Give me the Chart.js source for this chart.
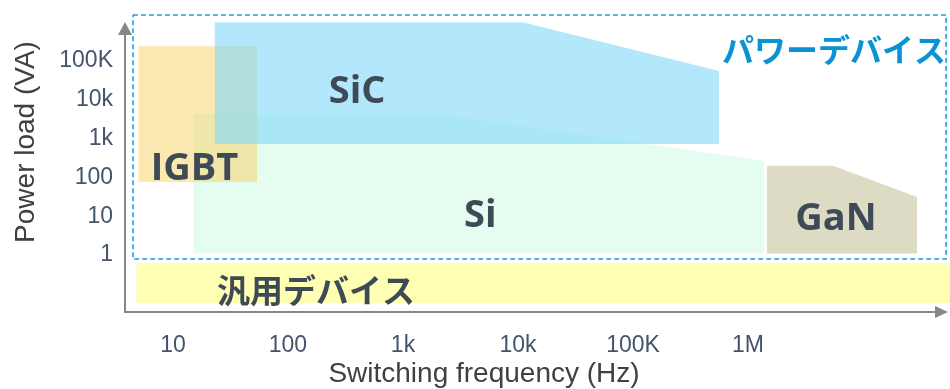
<!DOCTYPE html>
<html>
<head>
<meta charset="utf-8">
<script src="https://cdn.jsdelivr.net/npm/chart.js"></script>
<style>
  html, body { margin: 0; padding: 0; background: #fff; }
  #wrap { width: 950px; height: 389px; }
</style>
</head>
<body>
<div id="wrap"><canvas id="chart"></canvas></div>
<script>
// Axis ranges: switching frequency (Hz) and power load (VA), both log
const freqMin = 3.83, freqMax = 5.7e7;
const loadMin = 0.034, loadMax = 1.83e6;

const xTickValues = [10, 100, 1e3, 1e4, 1e5, 1e6];
const xTickLabels = ['10', '100', '1k', '10k', '100K', '1M'];
const yTickValues = [1, 10, 100, 1e3, 1e4, 1e5];
const yTickLabels = ['1', '10', '100', '1k', '10k', '100K'];

// Device regions: top edge of each area, filled down to its floor value
const sicTop = [{x: 23, y: 1e6}, {x: 1.1e4, y: 1e6}, {x: 5.6e5, y: 5.5e4}];
const sicFloor = 730;
const igbtTop = [{x: 5, y: 2.4e5}, {x: 54, y: 2.4e5}];
const igbtFloor = 76;
const siTop = [{x: 15, y: 4300}, {x: 2100, y: 4300}, {x: 1.38e6, y: 265}];
const siFloor = 1.1;
const ganTop = [{x: 1.46e6, y: 200}, {x: 5.5e6, y: 200}, {x: 2.95e7, y: 31}];
const ganFloor = 1.1;
const generalTop = [{x: 4.8, y: 0.62}, {x: 5.7e7, y: 0.62}];
const generalFloor = 0.058;

// Dashed frame around the power-device range
const powerFrame = [
  {x: 4.49, y: 1.53e6}, {x: 5.27e7, y: 1.53e6},
  {x: 5.27e7, y: 0.79}, {x: 4.49, y: 0.79}, {x: 4.49, y: 1.53e6}
];

// Region names and where they sit (Hz, VA)
const regionNames = ['SiC', 'IGBT', 'Si', 'GaN', '汎用デバイス', 'パワーデバイス'];
const regionLabelX = [400, 15.4, 4700, 5.8e6, 175, 5.6e6];
const regionLabelY = [16000, 160, 9.8, 8.2, 0.125, 1.92e5];

const latinBold = 'bold 38px "Open Sans", "Noto Sans CJK JP", sans-serif';
const cjkBold = 'bold 33px "Noto Sans CJK JP", sans-serif';
const labelFonts = [latinBold, latinBold, latinBold, latinBold, cjkBold, 'bold 32px "Noto Sans CJK JP", sans-serif'];
const labelColors = ['#3e4a56', '#3e4a56', '#3e4a56', '#3e4a56', '#3e4a56', '#0a93d3'];

function area(data, floor, color) {
  return {
    data: data,
    showLine: true,
    fill: {value: floor},
    backgroundColor: color,
    borderColor: 'rgba(0,0,0,0)',
    borderWidth: 0,
    pointRadius: 0,
    tension: 0
  };
}

const axisArrows = {
  id: 'axisArrows',
  beforeDatasetsDraw(chart) {
    const {ctx, chartArea: a} = chart;
    const yTip = a.top + 10, xTip = a.right - 2;
    ctx.save();
    ctx.strokeStyle = '#878787';
    ctx.fillStyle = '#878787';
    ctx.lineWidth = 2;
    ctx.beginPath();
    ctx.moveTo(a.left, yTip + 10);
    ctx.lineTo(a.left, a.bottom);
    ctx.lineTo(xTip - 10, a.bottom);
    ctx.stroke();
    ctx.beginPath();
    ctx.moveTo(a.left, yTip);
    ctx.lineTo(a.left - 7, yTip + 13);
    ctx.lineTo(a.left + 7, yTip + 13);
    ctx.closePath();
    ctx.fill();
    ctx.beginPath();
    ctx.moveTo(xTip, a.bottom);
    ctx.lineTo(xTip - 13, a.bottom - 6);
    ctx.lineTo(xTip - 13, a.bottom + 6);
    ctx.closePath();
    ctx.fill();
    ctx.restore();
  }
};

const regionLabels = {
  id: 'regionLabels',
  afterDatasetsDraw(chart) {
    const {ctx, scales} = chart;
    ctx.save();
    ctx.textAlign = 'center';
    ctx.textBaseline = 'middle';
    regionNames.forEach((name, i) => {
      ctx.font = labelFonts[i];
      ctx.fillStyle = labelColors[i];
      ctx.fillText(name, scales.x.getPixelForValue(regionLabelX[i]), scales.y.getPixelForValue(regionLabelY[i]));
    });
    ctx.restore();
  }
};

const axisTitles = {
  id: 'axisTitles',
  afterDraw(chart) {
    const {ctx} = chart;
    ctx.save();
    ctx.font = '28px "Liberation Sans", Arial, sans-serif';
    ctx.fillStyle = '#404040';
    ctx.textAlign = 'center';
    ctx.textBaseline = 'middle';
    ctx.fillText('Switching frequency (Hz)', 484, 374);
    ctx.translate(26, 142);
    ctx.rotate(-Math.PI / 2);
    ctx.fillText('Power load (VA)', 0, 0);
    ctx.restore();
  }
};

const tickFont = {family: '"Liberation Sans", Arial, sans-serif', size: 23};

new Chart(document.getElementById('chart'), {
  type: 'scatter',
  data: {
    datasets: [
      {
        data: powerFrame,
        showLine: true,
        fill: false,
        borderColor: '#1f9bdc',
        borderWidth: 1.5,
        borderDash: [5, 3],
        pointRadius: 0,
        clip: false
      },
      area(sicTop, sicFloor, 'rgba(128, 217, 250, 0.6)'),
      area(igbtTop, igbtFloor, 'rgba(250, 210, 100, 0.5)'),
      area(ganTop, ganFloor, '#dedbc5'),
      area(siTop, siFloor, '#e5fdf0'),
      area(generalTop, generalFloor, '#ffffb3')
    ]
  },
  options: {
    responsive: true,
    maintainAspectRatio: false,
    animation: false,
    events: [],
    layout: {padding: 0},
    plugins: {
      legend: {display: false},
      tooltip: {enabled: false}
    },
    scales: {
      x: {
        type: 'logarithmic',
        min: freqMin,
        max: freqMax,
        grid: {display: false, drawTicks: false},
        border: {display: false},
        afterBuildTicks: scale => { scale.ticks = xTickValues.map(v => ({value: v})); },
        afterFit: scale => {
          scale.height = 77;
          scale.paddingLeft = 0;
          scale.paddingRight = 0;
        },
        ticks: {
          autoSkip: false,
          maxRotation: 0,
          padding: 20,
          color: '#44546a',
          font: tickFont,
          callback: v => xTickLabels[xTickValues.indexOf(v)]
        }
      },
      y: {
        type: 'logarithmic',
        min: loadMin,
        max: loadMax,
        grid: {display: false, drawTicks: false},
        border: {display: false},
        afterBuildTicks: scale => { scale.ticks = yTickValues.map(v => ({value: v})); },
        afterFit: scale => {
          scale.width = 125;
          scale.paddingTop = 12;
          scale.paddingBottom = 0;
        },
        ticks: {
          autoSkip: false,
          padding: 12,
          color: '#44546a',
          font: tickFont,
          callback: v => yTickLabels[yTickValues.indexOf(v)]
        }
      }
    }
  },
  plugins: [axisArrows, regionLabels, axisTitles]
});
</script>
</body>
</html>
